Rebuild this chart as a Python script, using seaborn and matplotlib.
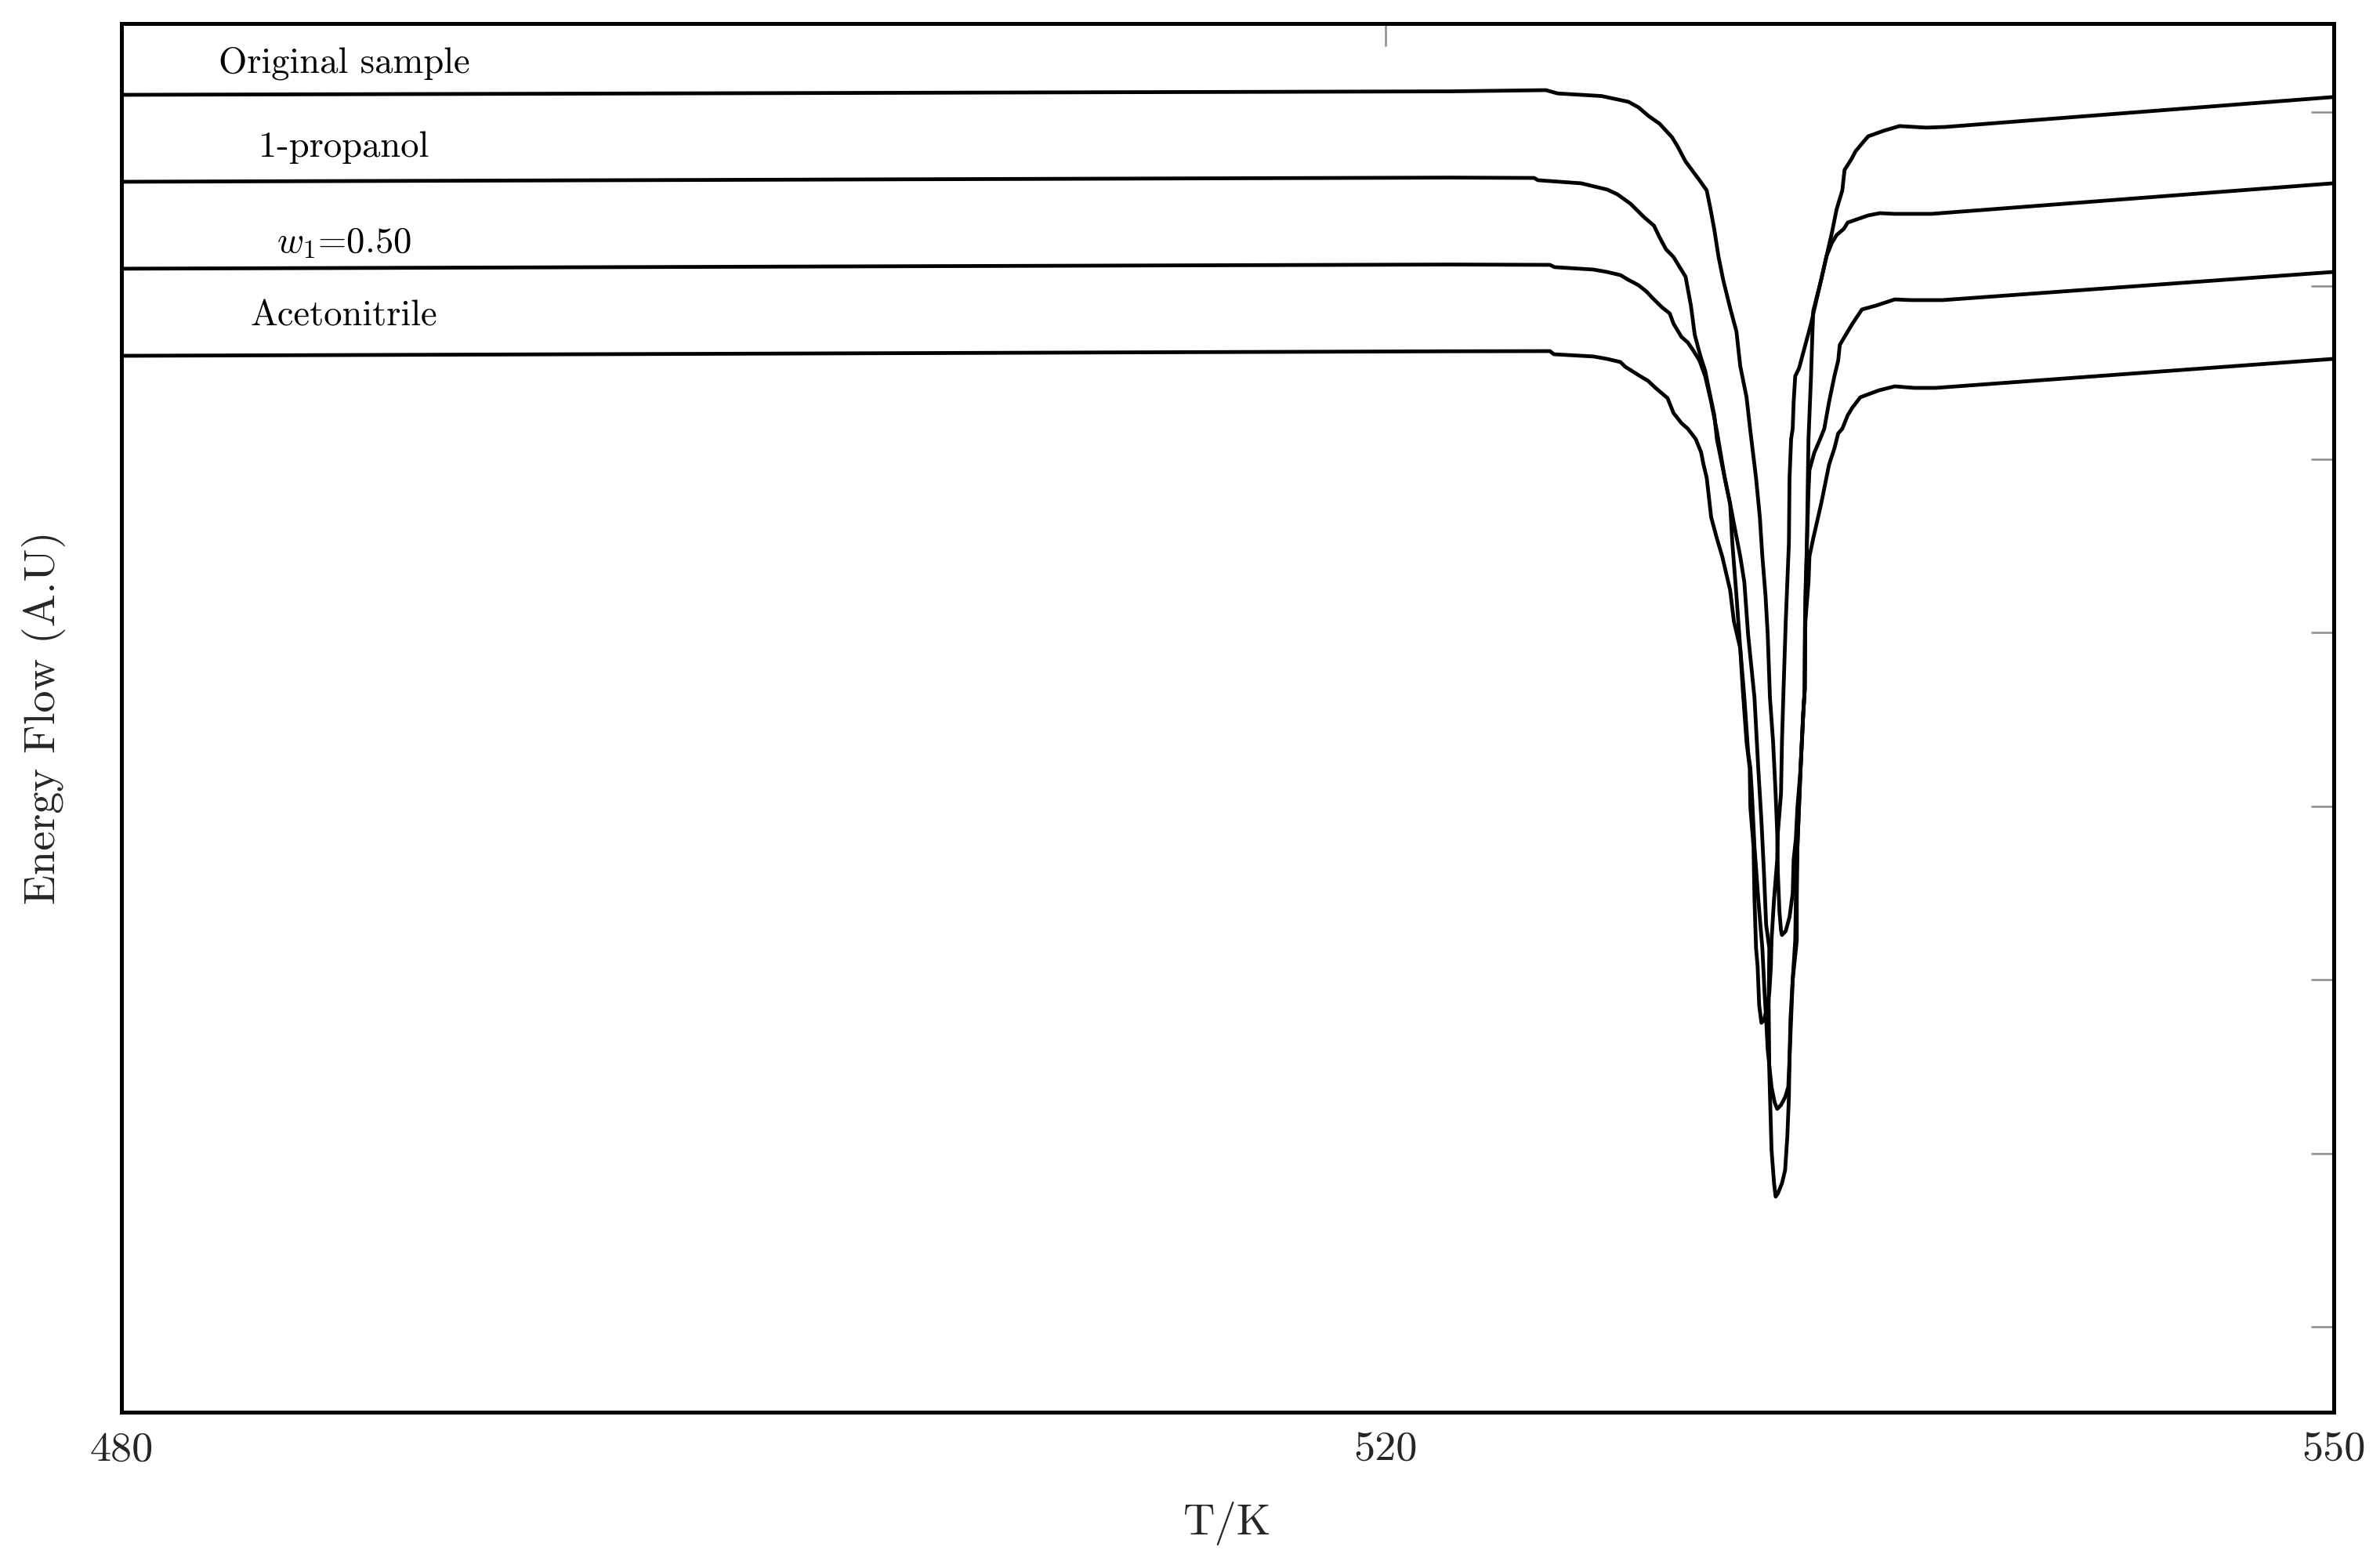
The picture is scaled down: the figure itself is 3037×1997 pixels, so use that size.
import matplotlib
matplotlib.use("Agg")
import matplotlib.pyplot as plt
import seaborn as sns

# Temperature (K) and energy flow (arbitrary units)
orig_T = [480.00, 522.04, 525.07, 525.44, 526.83, 527.68, 528.00, 528.32, 528.67, 529.06,
          529.24, 529.49, 529.93, 530.16, 530.28, 530.40, 530.53, 530.68, 530.90, 531.10,
          531.22, 531.42, 531.54, 531.72, 531.84, 531.92, 532.02, 532.09, 532.16, 532.26,
          532.34, 532.39, 532.41, 532.46, 532.51, 532.54, 532.66, 532.78, 532.88, 532.91,
          532.98, 533.03, 533.13, 533.21, 533.26, 533.28, 533.33, 533.36, 533.38, 533.46,
          533.50, 533.53, 533.78, 533.95, 534.12, 534.27, 534.45, 534.52, 534.74, 534.87,
          535.14, 535.27, 535.76, 536.26, 537.10, 537.72, 549.97]
orig_E = [71.00, 71.20, 71.27, 71.08, 70.93, 70.60, 70.28, 69.78, 69.33, 68.56,
          68.02, 67.16, 66.08, 65.49, 64.41, 63.23, 61.70, 60.34, 58.72, 57.36,
          55.37, 53.57, 51.63, 48.92, 46.66, 44.40, 42.14, 39.88, 36.27, 33.69,
          30.71, 28.46, 26.20, 23.94, 22.85, 22.58, 22.81, 23.62, 24.98, 26.92,
          28.14, 29.95, 32.20, 35.23, 36.72, 40.65, 45.17, 48.92, 51.17, 54.79,
          57.05, 58.54, 60.34, 61.70, 63.05, 64.41, 65.49, 66.67, 67.30, 67.75,
          68.34, 68.61, 68.93, 69.20, 69.11, 69.15, 70.87]

prop_T = [480.00, 522.04, 524.70, 524.82, 526.19, 527.01, 527.33, 527.75, 528.17, 528.49,
          528.67, 528.87, 529.11, 529.29, 529.49, 529.66, 529.78, 529.91, 529.98, 530.11,
          530.28, 530.40, 530.48, 530.73, 530.90, 530.97, 531.10, 531.22, 531.30, 531.42,
          531.52, 531.54, 531.64, 531.67, 531.72, 531.77, 531.82, 531.89, 531.97, 532.04,
          532.14, 532.19, 532.21, 532.29, 532.39, 532.41, 532.51, 532.54, 532.59, 532.66,
          532.76, 532.78, 532.83, 532.88, 532.91, 532.96, 533.08, 533.28, 533.46, 533.63,
          533.78, 533.95, 534.12, 534.27, 534.50, 534.62, 535.27, 535.64, 536.11, 537.27,
          549.97]
prop_E = [65.99, 66.23, 66.21, 66.08, 65.90, 65.54, 65.27, 64.72, 63.96, 63.46,
          62.78, 62.10, 61.65, 61.11, 60.52, 58.85, 57.18, 56.28, 55.83, 55.10,
          53.57, 52.53, 51.17, 48.92, 47.43, 45.17, 42.14, 39.11, 36.72, 33.69,
          32.20, 29.95, 27.69, 24.66, 21.82, 20.78, 18.52, 17.52, 17.66, 18.20,
          19.24, 20.78, 22.27, 24.66, 26.92, 28.46, 30.71, 33.69, 36.72, 40.65,
          45.17, 48.92, 51.17, 51.76, 53.30, 54.79, 55.24, 56.59, 57.81, 59.17,
          60.34, 61.70, 62.47, 62.92, 63.28, 63.64, 64.05, 64.18, 64.14, 64.14,
          65.90]

mix_T = [480.00, 522.04, 525.20, 525.34, 526.58, 527.01, 527.43, 527.68, 528.00, 528.25,
         528.44, 528.74, 528.99, 529.11, 529.36, 529.56, 529.73, 529.93, 530.11, 530.30,
         530.48, 530.73, 530.90, 531.22, 531.35, 531.47, 531.67, 531.79, 531.89, 531.97,
         532.04, 532.14, 532.12, 532.14, 532.21, 532.29, 532.34, 532.41, 532.54, 532.64,
         532.71, 532.76, 532.78, 532.83, 532.88, 533.01, 533.01, 533.03, 533.08, 533.13,
         533.21, 533.26, 533.26, 533.28, 533.33, 533.38, 533.41, 533.56, 533.75, 533.88,
         534.03, 534.20, 534.32, 534.37, 534.52, 534.77, 535.07, 535.51, 536.11, 536.63,
         537.62, 549.97]
mix_E = [60.98, 61.22, 61.20, 61.07, 60.93, 60.79, 60.61, 60.34, 60.03, 59.67,
         59.30, 58.76, 58.40, 57.81, 57.05, 56.73, 56.28, 55.69, 54.79, 53.30,
         51.63, 48.92, 47.43, 44.40, 42.91, 39.88, 36.27, 32.20, 29.18, 26.20,
         23.17, 21.82, 18.52, 14.72, 10.21, 8.27, 7.50, 7.68, 8.27, 9.03,
         10.98, 13.23, 15.49, 17.75, 20.01, 22.27, 24.66, 27.69, 29.95, 32.20,
         35.23, 36.72, 39.11, 42.14, 45.17, 48.15, 49.37, 50.36, 51.17, 51.76,
         53.30, 54.79, 55.69, 56.59, 57.05, 57.81, 58.63, 58.85, 59.21, 59.17,
         59.17, 60.79]

acn_T = [480.00, 522.04, 525.20, 525.32, 526.58, 527.01, 527.43, 527.58, 528.05, 528.30,
         528.54, 528.92, 529.11, 529.36, 529.56, 529.81, 529.98, 530.06, 530.16, 530.30,
         530.48, 530.65, 530.90, 531.02, 531.22, 531.35, 531.47, 531.54, 531.59, 531.67,
         531.79, 531.92, 531.99, 532.04, 532.09, 532.21, 532.31, 532.39, 532.51, 532.64,
         532.74, 532.78, 532.81, 532.88, 532.96, 532.98, 533.03, 533.08, 533.13, 533.21,
         533.26, 533.28, 533.38, 533.41, 533.53, 533.78, 534.03, 534.20, 534.32, 534.45,
         534.62, 534.77, 535.02, 535.61, 536.11, 536.73, 537.40, 549.97]
acn_E = [55.96, 56.22, 56.23, 56.05, 55.92, 55.78, 55.60, 55.33, 54.79, 54.52,
         54.11, 53.52, 52.66, 52.08, 51.76, 51.17, 50.41, 49.68, 48.92, 46.66,
         45.44, 44.40, 42.46, 40.65, 39.11, 36.27, 33.11, 32.20, 30.71, 27.69,
         24.66, 21.82, 19.24, 17.75, 15.94, 13.82, 12.92, 12.56, 12.78, 13.23,
         13.82, 15.49, 17.75, 20.01, 22.27, 24.66, 27.69, 29.95, 32.20, 35.23,
         36.72, 40.65, 42.91, 44.40, 45.44, 47.43, 49.68, 50.63, 51.49, 51.76,
         52.53, 52.98, 53.57, 53.97, 54.20, 54.11, 54.11, 55.78]

labels = ["Original sample", "1-propanol", r"$w_1$=0.50", "Acetonitrile"]
label_T = 487.04
label_E = [72.28, 67.43, 61.94, 57.68]

x_ticks = [480, 520, 550]

sns.set_theme(style="white")
plt.rcParams["font.family"] = ["cmr10"]
plt.rcParams["mathtext.fontset"] = "cm"
plt.rcParams["axes.formatter.use_mathtext"] = True

W, H = 3037, 1997
fig = plt.figure(figsize=(W / 300, H / 300), dpi=300)
ax = fig.add_axes([155 / W, 1 - 1802 / H, (2978 - 155) / W, (1802 - 30) / H])

for T, E in [(orig_T, orig_E), (prop_T, prop_E), (mix_T, mix_E), (acn_T, acn_E)]:
    sns.lineplot(x=T, y=E, ax=ax, sort=False, estimator=None,
                 color="black", linewidth=1.15)

for s, y in zip(labels, label_E):
    ax.text(label_T, y, s, ha="center", va="baseline", fontsize=11.2, color="black")

ax.set_xlim(480, 550)
ax.set_ylim(-4.92, 75.11)
ax.set_xticks(x_ticks)
ax.set_xticklabels([str(t) for t in x_ticks])
ax.set_yticks(range(0, 71, 10))
ax.set_yticklabels([])
ax.tick_params(direction="in", top=True, right=True, length=7, width=0.6,
               color="#8c8c8c", labelsize=13, pad=6)
ax.set_xlabel("T/K", fontsize=13.5, labelpad=10)
ax.set_ylabel("Energy Flow (A.U)", fontsize=13.5, labelpad=11)
for sp in ax.spines.values():
    sp.set_visible(True)
    sp.set_color("black")
    sp.set_linewidth(1.2)

fig.savefig("out.png", dpi=300)
